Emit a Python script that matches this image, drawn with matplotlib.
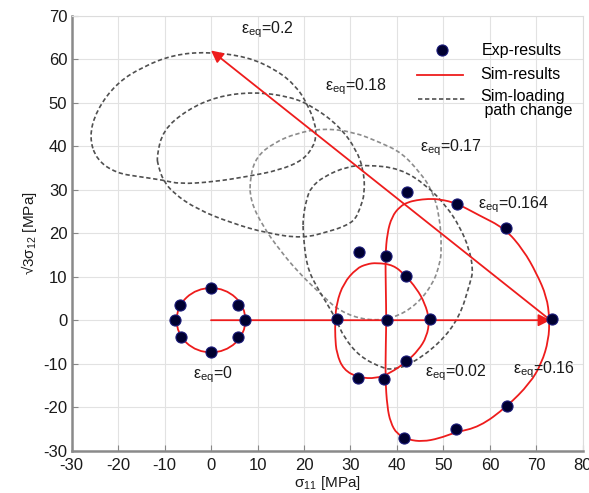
import matplotlib
matplotlib.use("Agg")
import matplotlib.pyplot as plt
from matplotlib.patches import Circle, PathPatch
from matplotlib.path import Path

plt.rcParams['font.family'] = ['Liberation Sans', 'DejaVu Sans']
plt.rcParams['mathtext.fontset'] = 'custom'
plt.rcParams['mathtext.rm'] = 'Liberation Sans'
plt.rcParams['mathtext.it'] = 'Liberation Sans'
plt.rcParams['mathtext.bf'] = 'Liberation Sans:bold'
plt.rcParams['axes.unicode_minus'] = False

# ---------------- data ----------------
xticks = [-30, -20, -10, 0, 10, 20, 30, 40, 50, 60, 70, 80]
yticks = [-30, -20, -10, 0, 10, 20, 30, 40, 50, 60, 70]

# experimental points
exp_x = [0, 5.9, 7.3, 5.9, 0, -6.5, -7.7, -6.7,
         31.8, 37.6, 41.9, 27.2, 37.8, 47.1, 73.3, 41.9, 31.7, 37.3,
         63.6, 52.6, 41.5, 42.2, 53.0, 63.4]
exp_y = [7.3, 3.5, 0, -3.9, -7.2, -3.8, 0, 3.5,
         15.7, 14.8, 10.2, 0.2, 0, 0.3, 0.3, -9.3, -13.4, -13.6,
         -19.7, -24.9, -27.0, 29.4, 26.8, 21.1]

# initial yield locus (eps_eq = 0)
init_center = (0.0, 0.0)
init_radius = 7.4

# eps_eq = 0.02 simulated locus (closed)
loc002_x = [26.7, 27.0, 28.5, 31.3, 33.5, 35.6, 39.2, 41.7, 44.2, 46.0, 47.0,
            46.4, 44.6, 42.1, 38.5, 35.6, 31.7, 28.5, 27.0, 26.7]
loc002_y = [0.0, 3.9, 8.5, 11.9, 12.9, 13.2, 12.7, 10.4, 7.3, 3.9, 0.0,
            -3.8, -6.9, -9.5, -12.2, -13.4, -13.2, -11.4, -7.6, -3.8]

# eps_eq = 0.16 / 0.164 simulated locus (closed)
loc016_x = [37.9, 37.5, 37.6, 37.7, 37.6, 37.5, 37.9, 38.9, 40.6, 42.3, 44.2,
            46.7, 49.2, 52.8, 57.5, 63.2, 67.2, 70.0, 72.2, 72.8, 72.6, 71.1,
            68.6, 63.6, 57.8, 52.5, 49.0, 45.5, 42.5, 40.0, 38.6]
loc016_y = [-19.9, -13.6, -5.0, 0.0, 7.0, 14.8, 20.0, 23.8, 26.1, 27.1, 27.6,
            27.9, 27.8, 26.9, 24.2, 21.1, 16.1, 10.8, 5.4, 0.4, -4.6, -9.9,
            -14.5, -19.9, -24.5, -25.8, -27.2, -27.9, -27.5, -26.2, -23.5]

# loading path (arrows)
path_x = [0, 73, 0]
path_y = [0, 0, 62]

# loading path change loci (dashed, closed)
pc020_x = [-26.2, -24.6, -20.3, -14.6, -8.1, -0.9, 7.7, 14.1, 18.3, 20.6, 22.4,
           22.6, 22.0, 19.8, 14.8, 7.7, 0.5, -6.7, -10.3, -15.5, -20.3, -24.6]
pc020_y = [42.2, 48.3, 54.5, 58.3, 61.0, 61.7, 60.6, 57.5, 53.8, 49.9, 45.3,
           42.2, 39.9, 36.8, 34.5, 33.0, 31.8, 31.3, 32.2, 33.0, 33.8, 36.8]

pc018_x = [-11.7, -10.3, -5.2, 1.2, 9.1, 17.0, 22.0, 27.7, 31.3, 32.8, 33.1,
           32.0, 30.8, 28.0, 25.6, 19.8, 12.0, 4.5, -3.0, -8.1, -10.3, -11.3]
pc018_y = [37.6, 43.7, 48.3, 51.4, 52.5, 51.4, 49.1, 44.5, 39.1, 34.5, 29.2,
           25.5, 22.8, 21.3, 20.5, 18.8, 20.0, 22.3, 25.5, 29.2, 32.2, 35.3]

pc017_x = [8.4, 9.8, 13.4, 18.4, 24.2, 30.6, 36.5, 41.0, 44.9, 47.5, 49.2,
           49.6, 49.2, 47.8, 44.2, 39.2, 33.5, 27.7, 23.4, 18.8, 14.8, 11.2, 8.4]
pc017_y = [33.0, 37.6, 40.7, 43.0, 44.1, 43.3, 40.8, 38.5, 34.0, 30.0, 24.0,
           16.1, 13.0, 8.5, 3.5, 0.4, -0.1, 2.0, 6.2, 11.0, 16.1, 21.5, 27.6]

pc0164_x = [19.8, 20.6, 21.5, 24.2, 29.2, 33.5, 40.6, 46.4, 50.7, 53.5, 55.5,
            56.4, 55.7, 53.5, 49.2, 42.8, 39.0, 37.1, 32.0, 28.5, 27.0, 24.9,
            22.7, 20.6, 19.8]
pc0164_y = [23.8, 28.0, 30.5, 33.0, 35.3, 35.7, 34.9, 31.0, 26.1, 21.5, 16.5,
            11.5, 8.5, 0.8, -5.3, -10.3, -11.3, -11.1, -8.4, -3.8, 0.0, 3.9,
            7.7, 12.3, 20.0]

# labels
eps_labels = ['0.2', '0.18', '0.17', '0.164', '0.02', '0.16', '0']
eps_lab_x = [6.4, 24.5, 45.0, 57.5, 46.0, 65.0, -3.8]
eps_lab_y = [66.0, 52.9, 38.8, 25.8, -12.9, -12.1, -13.3]

legend_labels = ['Exp-results', 'Sim-results', 'Sim-loading', ' path change']

# ---------------- style ----------------
RED = '#ee1c1c'
DARK = '#505050'
LIGHT = '#8c8c8c'
DOT_FACE = '#000030'
DOT_EDGE = '#1c1c7a'
dash = (0, (2.6, 1.6))


def closed_curve(xs, ys):
    """Closed smooth path using the traced points as quadratic B-spline controls."""
    pts = list(zip(xs, ys))
    n = len(pts)
    mids = [((pts[i][0] + pts[(i + 1) % n][0]) / 2,
             (pts[i][1] + pts[(i + 1) % n][1]) / 2) for i in range(n)]
    verts = [mids[-1]]
    codes = [Path.MOVETO]
    for i in range(n):
        verts += [pts[i], mids[i]]
        codes += [Path.CURVE3, Path.CURVE3]
    return Path(verts, codes)


fig = plt.figure(figsize=(5.89, 4.93), dpi=100)
ax = fig.add_axes([0.1214, 0.0858, 0.8684, 0.8824])

ax.set_xlim(-30, 80)
ax.set_ylim(-30, 70)
ax.set_xticks(xticks)
ax.set_yticks(yticks)
ax.grid(True, color='#e2e2e2', lw=0.8, zorder=0)
ax.set_axisbelow(True)
ax.tick_params(direction='in', length=4, color='#888888', labelsize=12,
               labelcolor='#1a1a1a')
ax.tick_params(axis='x', pad=5)
ax.tick_params(axis='y', pad=3)
for s in ['left', 'bottom']:
    ax.spines[s].set_color('#8a8a8a')
    ax.spines[s].set_linewidth(1.8)
for s in ['top', 'right']:
    ax.spines[s].set_color('#dcdcdc')
    ax.spines[s].set_linewidth(0.8)

# dashed loading path change loci
for cx, cy, col in [(pc020_x, pc020_y, DARK), (pc018_x, pc018_y, DARK),
                    (pc017_x, pc017_y, LIGHT), (pc0164_x, pc0164_y, DARK)]:
    ax.add_patch(PathPatch(closed_curve(cx, cy), fill=False, ec=col, lw=1.2,
                           ls=dash, zorder=2))

# simulated loci
ax.add_patch(Circle(init_center, init_radius, fill=False, ec=RED, lw=1.3, zorder=3))
ax.add_patch(PathPatch(closed_curve(loc002_x, loc002_y), fill=False, ec=RED, lw=1.3, zorder=3))
ax.add_patch(PathPatch(closed_curve(loc016_x, loc016_y), fill=False, ec=RED, lw=1.3, zorder=3))

# loading path arrows
for i in range(len(path_x) - 1):
    ax.annotate('', xy=(path_x[i + 1], path_y[i + 1]), xytext=(path_x[i], path_y[i]),
                arrowprops=dict(arrowstyle='-|>', color=RED, lw=1.3,
                                mutation_scale=18, shrinkA=0, shrinkB=0),
                zorder=4)

# experimental points
ax.plot(exp_x, exp_y, 'o', ms=8, mfc=DOT_FACE, mec=DOT_EDGE, mew=0.8, zorder=5)

# eps labels
for lab, x, y in zip(eps_labels, eps_lab_x, eps_lab_y):
    ax.text(x, y, 'ε$_{\\rm eq}$=' + lab, fontsize=11.5, color='#1a1a1a',
            ha='left', va='baseline', zorder=6)

# axis labels
ax.set_xlabel('σ$_{11}$ [MPa]', fontsize=11, color='#1a1a1a', labelpad=1)
ax.set_ylabel('√3σ$_{12}$ [MPa]', fontsize=11, color='#1a1a1a', labelpad=3)

# legend (drawn in axes fraction)
T = ax.transAxes
ax.plot([0.724], [0.920], 'o', ms=8, mfc=DOT_FACE, mec=DOT_EDGE, mew=0.8,
        transform=T, clip_on=False, zorder=6)
ax.plot([0.675, 0.766], [0.864, 0.864], color=RED, lw=1.3, transform=T, zorder=6)
ax.plot([0.678, 0.770], [0.808, 0.808], color=DARK, lw=1.2, ls=dash, transform=T, zorder=6)
ax.text(0.802, 0.920, legend_labels[0], transform=T, fontsize=11.5, va='center', ha='left')
ax.text(0.799, 0.864, legend_labels[1], transform=T, fontsize=11.5, va='center', ha='left')
ax.text(0.799, 0.814, legend_labels[2], transform=T, fontsize=11.5, va='center', ha='left')
ax.text(0.799, 0.781, legend_labels[3], transform=T, fontsize=11.5, va='center', ha='left')

fig.savefig('out.png', dpi=100)
